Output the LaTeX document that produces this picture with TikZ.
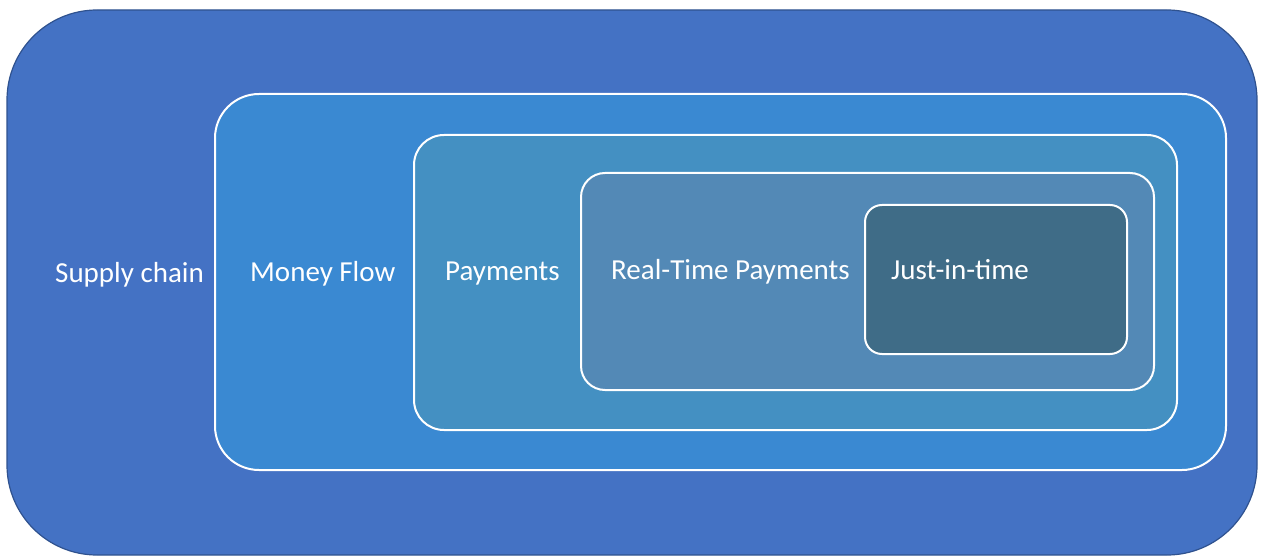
\documentclass[tikz,border=0pt]{standalone}
\usepackage{fontspec}
\setmainfont{Carlito}
\usepackage{tikz}
\definecolor{rand}{HTML}{2F528F}
\definecolor{kette}{HTML}{4472C4}
\definecolor{geld}{HTML}{3A89D2}
\definecolor{zahl}{HTML}{4490C2}
\definecolor{echt}{HTML}{5389B6}
\definecolor{jit}{HTML}{3F6C87}
\tikzset{
  aussen/.style={fill=kette,draw=rand,line width=1.2pt},
  box/.style={draw=white,line width=2pt},
  lbl/.style={white,anchor=west,inner sep=0pt,font=\fontsize{29}{34}\selectfont},
}

\begin{document}
\begin{tikzpicture}[x=1pt,y=-1pt]
  \useasboundingbox (0,0) rectangle (1261,556);
  \draw[aussen,rounded corners=90pt] (7,10) rectangle (1257,555);
  \draw[box,fill=geld,rounded corners=44pt] (215,94) rectangle (1226,470);
  \draw[box,fill=zahl,rounded corners=30pt] (414,135) rectangle (1177,430);
  \draw[box,fill=echt,rounded corners=24pt] (581,173) rectangle (1154,390);
  \draw[box,fill=jit,rounded corners=17pt] (865,205) rectangle (1127,354);
  \node[lbl] (supply) at (55,275) {Supply chain};
  \node[lbl] (money) at (250,274) {Money Flow};
  \node[lbl] (pay) at (445,274) {Payments};
  \node[lbl] (rtp) at (611,272) {Real-Time Payments};
  \node[lbl] (jit) at (891,270) {Just-in-time};
\end{tikzpicture}
\end{document}
